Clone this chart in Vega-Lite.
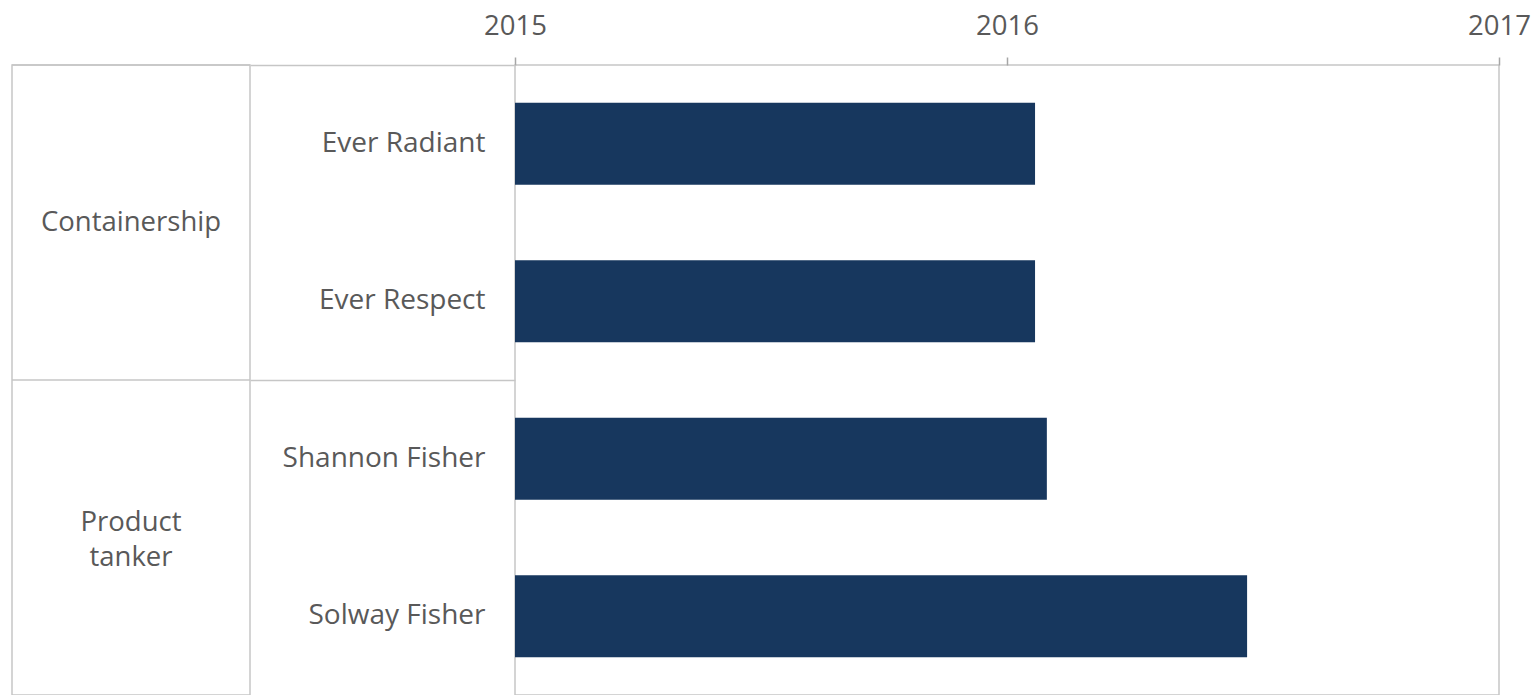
{
  "$schema": "https://vega.github.io/schema/vega-lite/v6.json",
  "background": "white",
  "autosize": {"type": "pad"},
  "padding": {"left": 10, "top": 11, "right": 0, "bottom": 0},
  "config": {
    "font": "Open Sans",
    "view": {"stroke": "#c6c6c6", "strokeWidth": 1.5},
    "axis": {"labelFont": "Open Sans", "labelFontSize": 28, "labelColor": "#595959"}
  },
  "datasets": {
    "ships": [
      {"group": "Containership", "vessel": "Ever Radiant", "end": 2016.057},
      {"group": "Containership", "vessel": "Ever Respect", "end": 2016.057},
      {"group": "Product tanker", "vessel": "Shannon Fisher", "end": 2016.081},
      {"group": "Product tanker", "vessel": "Solway Fisher", "end": 2016.488}
    ],
    "groups": [
      {"group": "Containership"},
      {"group": "Product tanker"}
    ]
  },
  "bounds": "flush",
  "spacing": 265,
  "hconcat": [
    {
      "width": 238,
      "height": 630,
      "data": {"name": "groups"},
      "encoding": {
        "y": {"field": "group", "type": "nominal", "sort": null,
              "scale": {"paddingInner": 0, "paddingOuter": 0}, "axis": null}
      },
      "layer": [
        {
          "mark": {"type": "rule", "color": "#c6c6c6", "strokeWidth": 1.5},
          "encoding": {
            "y": {"field": "group", "type": "nominal", "bandPosition": 0, "sort": null, "axis": null}
          }
        },
        {
          "transform": [{"filter": "datum.group === 'Containership'"}],
          "mark": {"type": "text", "fontSize": 27.5, "color": "#595959", "align": "center", "baseline": "middle"},
          "encoding": {"text": {"field": "group"}}
        },
        {
          "transform": [{"filter": "datum.group === 'Product tanker'"}],
          "mark": {"type": "text", "fontSize": 27.5, "color": "#595959", "lineBreak": " ", "lineHeight": 35, "dy": -15, "align": "center", "baseline": "middle"},
          "encoding": {"text": {"field": "group"}}
        }
      ]
    },
    {
      "width": 984,
      "height": 630,
      "data": {"name": "ships"},
      "mark": {"type": "bar", "color": "#17375e", "height": {"band": 0.52}},
      "encoding": {
        "y": {
          "field": "vessel", "type": "nominal", "sort": null,
          "scale": {"paddingInner": 0, "paddingOuter": 0},
          "axis": {
            "title": null, "domain": false, "ticks": true, "tickSize": 265,
            "tickWidth": 1.5, "bandPosition": 0,
            "tickColor": {"condition": {"test": "datum.value === 'Ever Radiant' || datum.value === 'Shannon Fisher'", "value": "#c6c6c6"}, "value": "rgba(0,0,0,0)"},
            "labelPadding": -235, "labelLimit": 400, "minExtent": 265, "maxExtent": 265
          }
        },
        "x": {
          "field": "end", "type": "quantitative",
          "scale": {"domain": [2015, 2017], "zero": false, "nice": false},
          "axis": {
            "orient": "top", "title": null, "values": [2015, 2016, 2017], "tickCount": 10, "tickMinStep": 0.1, "format": "d",
            "grid": false, "labelOverlap": false,
            "domain": false, "ticks": true, "tickSize": 8, "tickColor": "#a6a6a6", "tickWidth": 1.5,
            "labelPadding": 17, "labelFlush": false, "labelFontSize": 27.5
          }
        },
        "x2": {"datum": 2015}
      }
    }
  ]
}
